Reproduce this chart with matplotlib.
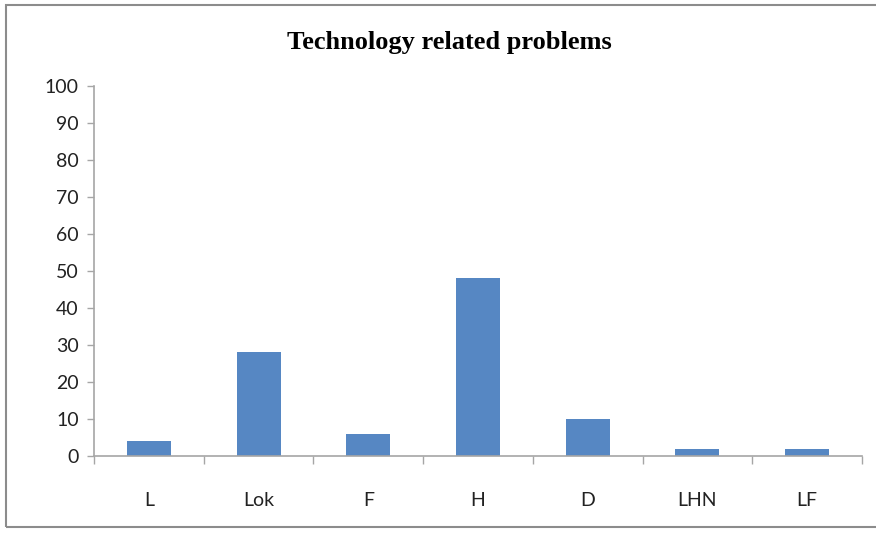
import matplotlib
matplotlib.use("Agg")
import matplotlib.pyplot as plt
import numpy as np
from matplotlib.patches import Rectangle

categories = ["L", "Lok", "F", "H", "D", "LHN", "LF"]
values = [4, 28, 6, 48, 10, 2, 2]
yticks = list(range(0, 101, 10))

BAR = "#5687c3"
AXIS = "#a6a6a6"

fig = plt.figure(figsize=(8.76, 5.33), dpi=100)
ax = fig.add_axes([94 / 876, 1 - 456 / 533, 768 / 876, 370 / 533])

x = np.arange(len(categories))
ax.bar(x, values, width=0.4, color=BAR, zorder=2)
ax.set_xlim(-0.5, len(categories) - 0.5)
ax.set_ylim(0, 100)

ax.set_yticks(yticks)
ax.set_yticklabels([str(t) for t in yticks], family="Lato", fontsize=14, color="#222222")
ax.set_xticks(x)
ax.set_xticklabels(categories, family="Lato", fontsize=14, color="#222222")
ax.tick_params(axis="x", length=0, pad=26)
ax.tick_params(axis="y", length=5, color=AXIS, width=1, pad=6)
# category boundary ticks on x axis
ax.set_xticks(np.arange(-0.5, len(categories)), minor=True)
ax.tick_params(axis="x", which="minor", length=6, color=AXIS, width=1)

for s in ["top", "right"]:
    ax.spines[s].set_visible(False)
for s in ["left", "bottom"]:
    ax.spines[s].set_color(AXIS)
    ax.spines[s].set_linewidth(1.2)

fig.text(449 / 876, 1 - 42 / 533, "Technology related problems", ha="center", va="center",
         family="Liberation Serif", fontweight="bold", fontsize=19)

# outer chart frame
fig.patches.append(Rectangle((6 / 876, 6 / 533), 900 / 876, 522 / 533, transform=fig.transFigure,
                             fill=False, edgecolor="#8c8c8c", linewidth=1.5))

fig.savefig("out.png", dpi=100)
